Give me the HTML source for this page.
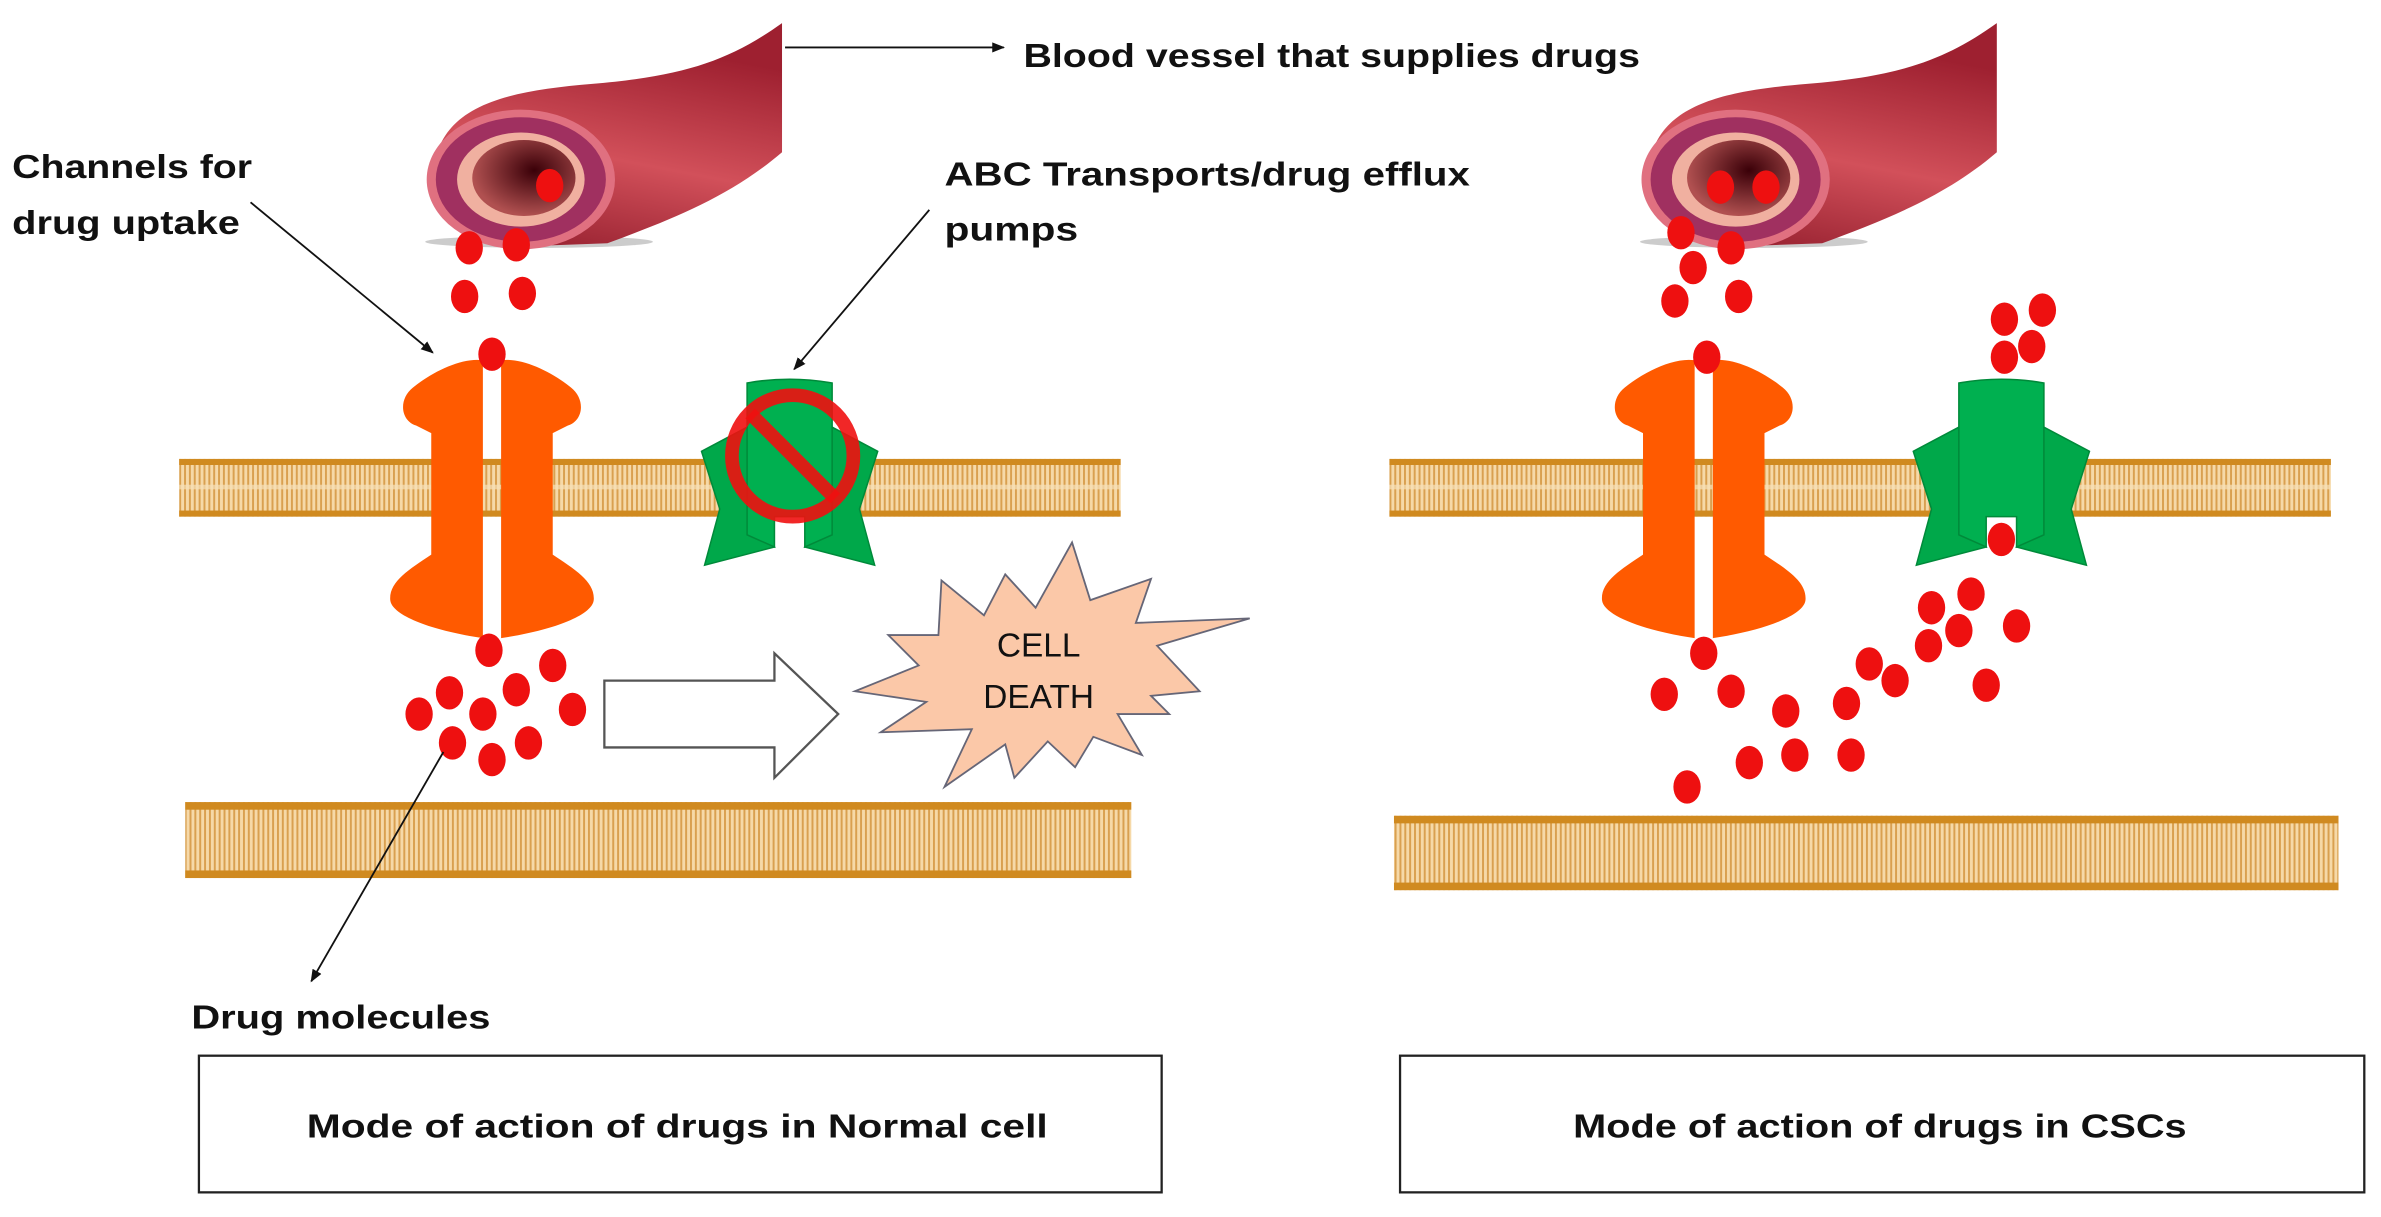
<!DOCTYPE html>
<html><head><meta charset="utf-8"><style>
html,body{margin:0;padding:0;background:#fff;width:2381px;height:1217px;overflow:hidden}
svg{display:block}
text{font-family:"Liberation Sans",sans-serif;font-weight:bold;fill:#111}
</style></head><body>
<svg width="2381" height="1217" viewBox="0 0 1568 801" xmlns="http://www.w3.org/2000/svg">
<defs>
<pattern id="stripe" width="3.2" height="10" patternUnits="userSpaceOnUse">
<rect width="3.2" height="10" fill="#f6d9a8"/><rect x="0" width="1.3" height="10" fill="#d9a050"/>
</pattern>
<linearGradient id="vg" x1="0" y1="1" x2="0.3" y2="0">
<stop offset="0" stop-color="#8e1a2a"/><stop offset="0.5" stop-color="#d2505a"/><stop offset="1" stop-color="#9e2030"/>
</linearGradient>
<radialGradient id="lum" cx="0.6" cy="0.4" r="0.6">
<stop offset="0" stop-color="#3a0008"/><stop offset="1" stop-color="#b05050"/>
</radialGradient>
<marker id="ah" viewBox="0 0 10 10" refX="9" refY="5" markerWidth="7" markerHeight="7" orient="auto"><path d="M0,1 L10,5 L0,9 z" fill="#111"/></marker>
<g id="vessel">
<ellipse cx="355" cy="159" rx="75" ry="4" fill="#999" opacity="0.5"/>
<path d="M285,120 C285,70 330,60 390,55 C450,50 480,40 515,15 L515,100 C480,130 440,145 400,160 L345,162 Z" fill="url(#vg)"/>
<ellipse cx="343" cy="118" rx="62" ry="46" fill="#e07080"/>
<ellipse cx="343" cy="118" rx="56" ry="41" fill="#a03060"/>
<ellipse cx="343" cy="118" rx="42" ry="31" fill="#f0b0a0"/>
<ellipse cx="345" cy="117" rx="34" ry="25" fill="url(#lum)"/>
</g>
<g id="membrane">
<rect x="0" y="0" width="620" height="38" fill="url(#stripe)"/>
<rect x="0" y="0" width="620" height="4" fill="#d08a20"/>
<rect x="0" y="34" width="620" height="4" fill="#d08a20"/>
<rect x="0" y="17" width="620" height="3" fill="#f6e0b8" opacity="0.7"/>
</g>
<g id="channel" fill="#ff5a00">
<path d="M-6,-88 C-20,-90 -40,-80 -52,-70 C-62,-62 -60,-48 -50,-45 L-40,-40 L-40,40 C-55,50 -68,58 -67,70 C-66,80 -40,90 -6,95 Z"/>
<path d="M6,-88 C20,-90 40,-80 52,-70 C62,-62 60,-48 50,-45 L40,-40 L40,40 C55,50 68,58 67,70 C66,80 40,90 6,95 Z"/>
</g>
<g id="pump">
<polygon points="-58,-13 -26,-30 -26,35 -10,50 -56,62 -46,25" fill="#00a84a" stroke="#008a3a" stroke-width="1"/>
<polygon points="58,-13 26,-30 26,35 10,50 56,62 46,25" fill="#00a84a" stroke="#008a3a" stroke-width="1"/>
<path d="M-28,-58 Q0,-63 28,-58 L28,42 L10,50 L10,30 L-10,30 L-10,50 L-28,42 Z" fill="#00b050" stroke="#008a3a" stroke-width="1"/>
</g>
</defs>

<use href="#membrane" x="118" y="302"/>
<rect x="122" y="528" width="623" height="50" fill="url(#stripe)"/>
<rect x="122" y="528" width="623" height="5" fill="#d08a20"/>
<rect x="122" y="573" width="623" height="5" fill="#d08a20"/>
<use href="#membrane" x="915" y="302"/>
<rect x="918" y="537" width="622" height="49" fill="url(#stripe)"/>
<rect x="918" y="537" width="622" height="5" fill="#d08a20"/>
<rect x="918" y="581" width="622" height="5" fill="#d08a20"/>

<use href="#vessel"/>
<use href="#vessel" x="800"/>

<use href="#channel" x="324" y="325"/>
<use href="#channel" x="1122" y="325"/>

<use href="#pump" x="520" y="310"/>
<use href="#pump" x="1318" y="310"/>
<circle cx="522" cy="300" r="40" fill="none" stroke="#f01010" stroke-width="9" opacity="0.9"/>
<line x1="494" y1="272" x2="550" y2="328" stroke="#f01010" stroke-width="9" opacity="0.9"/>

<path d="M398,448 L510,448 L510,430 L552,470 L510,512 L510,492 L398,492 Z" fill="#fff" stroke="#555" stroke-width="1.5"/>

<polygon points="620,382 648,405 662,378 682,400 706,357 718,395 758,381 748,410 823,407 762,425 790,455 758,458 770,470 736,470 752,497 720,485 708,505 690,488 668,512 662,490 622,518 640,480 580,482 610,462 563,455 605,438 585,418 618,418" fill="#fbc8a8" stroke="#667" stroke-width="1.2"/>
<text x="684" y="432" font-size="22" text-anchor="middle" style="font-weight:normal">CELL</text>
<text x="684" y="466" font-size="22" text-anchor="middle" style="font-weight:normal">DEATH</text>

<g fill="#ee1010">
<ellipse cx="362" cy="122" rx="9" ry="11"/>
<ellipse cx="309" cy="163" rx="9" ry="11"/><ellipse cx="340" cy="161" rx="9" ry="11"/>
<ellipse cx="306" cy="195" rx="9" ry="11"/><ellipse cx="344" cy="193" rx="9" ry="11"/>
<ellipse cx="324" cy="233" rx="9" ry="11"/>
<ellipse cx="322" cy="428" rx="9" ry="11"/><ellipse cx="364" cy="438" rx="9" ry="11"/>
<ellipse cx="296" cy="456" rx="9" ry="11"/><ellipse cx="340" cy="454" rx="9" ry="11"/>
<ellipse cx="276" cy="470" rx="9" ry="11"/><ellipse cx="318" cy="470" rx="9" ry="11"/>
<ellipse cx="377" cy="467" rx="9" ry="11"/><ellipse cx="298" cy="489" rx="9" ry="11"/>
<ellipse cx="348" cy="489" rx="9" ry="11"/><ellipse cx="324" cy="500" rx="9" ry="11"/>

<ellipse cx="1133" cy="123" rx="9" ry="11"/><ellipse cx="1163" cy="123" rx="9" ry="11"/>
<ellipse cx="1107" cy="153" rx="9" ry="11"/><ellipse cx="1140" cy="163" rx="9" ry="11"/>
<ellipse cx="1115" cy="176" rx="9" ry="11"/><ellipse cx="1103" cy="198" rx="9" ry="11"/>
<ellipse cx="1145" cy="195" rx="9" ry="11"/><ellipse cx="1124" cy="235" rx="9" ry="11"/>
<ellipse cx="1320" cy="210" rx="9" ry="11"/><ellipse cx="1345" cy="204" rx="9" ry="11"/>
<ellipse cx="1320" cy="235" rx="9" ry="11"/><ellipse cx="1338" cy="228" rx="9" ry="11"/>
<ellipse cx="1318" cy="355" rx="9" ry="11"/>
<ellipse cx="1122" cy="430" rx="9" ry="11"/><ellipse cx="1096" cy="457" rx="9" ry="11"/>
<ellipse cx="1140" cy="455" rx="9" ry="11"/><ellipse cx="1176" cy="468" rx="9" ry="11"/>
<ellipse cx="1111" cy="518" rx="9" ry="11"/><ellipse cx="1152" cy="502" rx="9" ry="11"/>
<ellipse cx="1182" cy="497" rx="9" ry="11"/><ellipse cx="1231" cy="437" rx="9" ry="11"/>
<ellipse cx="1248" cy="448" rx="9" ry="11"/><ellipse cx="1216" cy="463" rx="9" ry="11"/>
<ellipse cx="1219" cy="497" rx="9" ry="11"/><ellipse cx="1272" cy="400" rx="9" ry="11"/>
<ellipse cx="1298" cy="391" rx="9" ry="11"/><ellipse cx="1270" cy="425" rx="9" ry="11"/>
<ellipse cx="1290" cy="415" rx="9" ry="11"/><ellipse cx="1328" cy="412" rx="9" ry="11"/>
<ellipse cx="1308" cy="451" rx="9" ry="11"/>
</g>

<g stroke="#111" stroke-width="1.2" fill="none" marker-end="url(#ah)">
<line x1="517" y1="31" x2="661" y2="31"/>
<line x1="165" y1="133" x2="285" y2="232"/>
<line x1="612" y1="138" x2="523" y2="243"/>
<line x1="292" y1="495" x2="205" y2="646"/>
</g>

<text x="674" y="44" font-size="22" textLength="406" lengthAdjust="spacingAndGlyphs">Blood vessel that supplies drugs</text>
<text x="8" y="117" font-size="22" textLength="158" lengthAdjust="spacingAndGlyphs">Channels for</text>
<text x="8" y="154" font-size="22" textLength="150" lengthAdjust="spacingAndGlyphs">drug uptake</text>
<text x="622" y="122" font-size="22" textLength="346" lengthAdjust="spacingAndGlyphs">ABC Transports/drug efflux</text>
<text x="622" y="158" font-size="22" textLength="88" lengthAdjust="spacingAndGlyphs">pumps</text>
<text x="126" y="677" font-size="22" textLength="197" lengthAdjust="spacingAndGlyphs">Drug molecules</text>

<rect x="131" y="695" width="634" height="90" fill="#fff" stroke="#222" stroke-width="1.5"/>
<rect x="922" y="695" width="635" height="90" fill="#fff" stroke="#222" stroke-width="1.5"/>
<text x="202" y="749" font-size="22" textLength="488" lengthAdjust="spacingAndGlyphs">Mode of action of drugs in Normal cell</text>
<text x="1036" y="749" font-size="22" textLength="404" lengthAdjust="spacingAndGlyphs">Mode of action of drugs in CSCs</text>
</svg>
</body></html>
